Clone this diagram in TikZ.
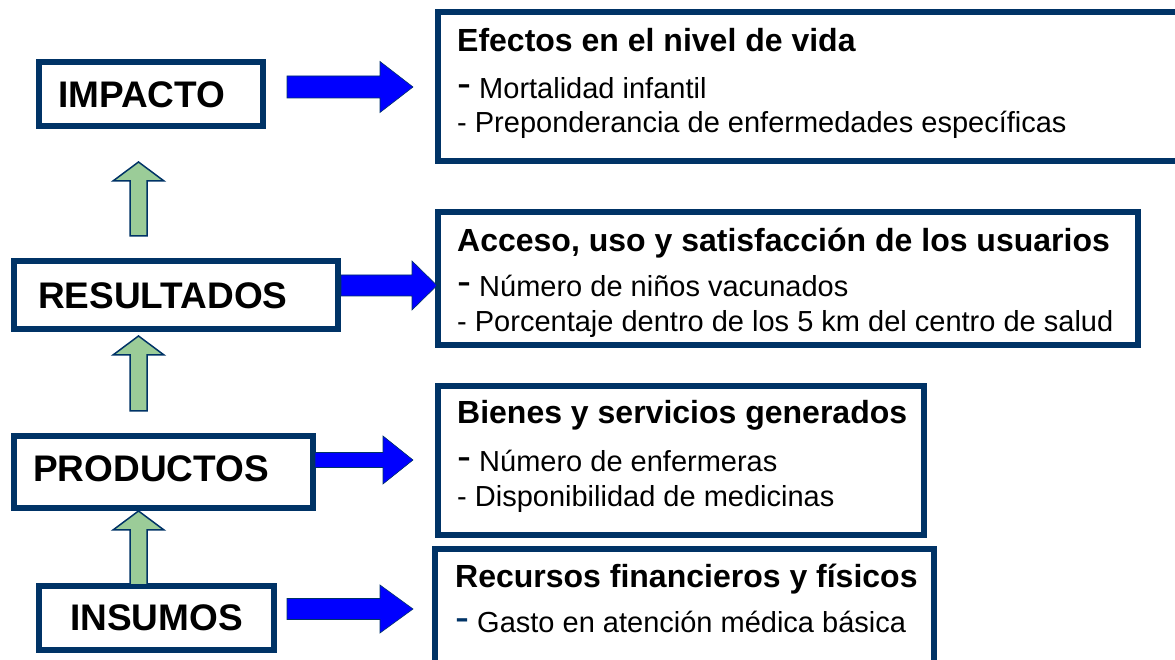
\documentclass[tikz,border=0pt]{standalone}
\usepackage{fontspec}
\setmainfont{Liberation Sans}
\usepackage{xcolor}
\usepackage{tikz}
\usetikzlibrary{calc,positioning}
\definecolor{navy}{RGB}{0,51,102}
\definecolor{leafgreen}{RGB}{155,204,152}
\definecolor{pureblue}{RGB}{0,0,255}
\tikzset{
  levelbox/.style={
      draw=navy,
      line width=6pt,
      fill=white,
      inner sep=0pt
    },
  levellabel/.style={anchor=base west, inner sep=0pt, font=\fontsize{37}{40}\selectfont\bfseries},
  headtext/.style={anchor=base west, inner sep=0pt, font=\fontsize{32}{36}\selectfont\bfseries},
  itemtext/.style={anchor=base west, inner sep=0pt, font=\fontsize{29}{33}\selectfont},
  bluearrow/.style={fill=pureblue, draw=navy, line width=0.6pt},
  greenarrow/.style={fill=leafgreen, draw=navy, line width=1.5pt}
}
\newcommand{\bigdash}{{\fontsize{42}{42}\selectfont\raisebox{1pt}{-}}}
% #2 from, #3 to, #4 half shaft, #5 half head, #6 head length
\newcommand{\rightfat}[6][]{%
  \path[#1] let \p1=(#2), \p2=(#3) in
    (\x1,\y1+#4) -- (\x2-#6,\y1+#4) -- (\x2-#6,\y1+#5) -- (\x2,\y1)
    -- (\x2-#6,\y1-#5) -- (\x2-#6,\y1-#4) -- (\x1,\y1-#4) -- cycle;}
\newcommand{\upfat}[6][]{%
  \path[#1] let \p1=(#2), \p2=(#3) in
    (\x1-#4,\y1) -- (\x1-#4,\y2-#6) -- (\x1-#5,\y2-#6) -- (\x1,\y2)
    -- (\x1+#5,\y2-#6) -- (\x1+#4,\y2-#6) -- (\x1+#4,\y1) -- cycle;}
\begin{document}
\begin{tikzpicture}[x=1pt,y=1pt]
\useasboundingbox (0,0) rectangle (1175,660);
\clip (0,0) rectangle (1175,660);
% the boxes
\node[levelbox, minimum width=224pt, minimum height=64pt] (impacto) at (151,566) {};
\node[levelbox, minimum width=324pt, minimum height=68pt] (resultados) at (176,365) {};
\node[levelbox, minimum width=299pt, minimum height=72pt] (productos) at (163.5,188) {};
\node[levelbox, minimum width=235pt, minimum height=64pt] (insumos) at (156.5,42) {};
\node[levelbox, minimum width=744pt, minimum height=149pt] (efectos) at (810,573.5) {};
\node[levelbox, minimum width=700pt, minimum height=133pt] (acceso) at (788,381.5) {};
\node[levelbox, minimum width=486pt, minimum height=149pt] (bienes) at (681,199.5) {};
\node[levelbox, minimum width=499pt, minimum height=148pt] (recursos) at (684.5,37) {};

% the texts
\node[levellabel] (impacto-lbl) at (58,552) {IMPACTO};
\node[levellabel] (resultados-lbl) at (38,351) {RESULTADOS};
\node[levellabel] (productos-lbl) at (33,178) {PRODUCTOS};
\node[levellabel] (insumos-lbl) at (70,29) {INSUMOS};

\node[headtext] (efectos-h) at (457,608) {Efectos en el nivel de vida};
\node[itemtext] (efectos-1) at (457,561) {\bigdash{} Mortalidad infantil};
\node[itemtext] (efectos-2) at (457,527) {- Preponderancia de enfermedades específicas};

\node[headtext] (acceso-h) at (457,408) {Acceso, uso y satisfacción de los usuarios};
\node[itemtext] (acceso-1) at (457,363) {\bigdash{} Número de niños vacunados};
\node[itemtext] (acceso-2) at (457,328) {- Porcentaje dentro de los 5 km del centro de salud};

\node[headtext] (bienes-h) at (457,236) {Bienes y servicios generados};
\node[itemtext] (bienes-1) at (457,188) {\bigdash{} Número de enfermeras};
\node[itemtext] (bienes-2) at (457,153) {- Disponibilidad de medicinas};

\node[headtext] (recursos-h) at (455,72) {Recursos financieros y físicos};
\node[itemtext] (recursos-1) at (455,27) {\textcolor{navy}{\bigdash}{} Gasto en atención médica básica};

%the arrows
\rightfat[bluearrow]{$(impacto.east)+(21,7)$}{$(efectos.west)+(-22,0)$}{11pt}{25.5pt}{33pt}
\rightfat[bluearrow]{$(resultados.east)+(0,9.5)$}{$(acceso.west)+(2,0)$}{10.5pt}{24.5pt}{25pt}
\rightfat[bluearrow]{$(productos.east)+(-1,12)$}{$(bienes.west)+(-22,0)$}{7.5pt}{24pt}{30pt}
\rightfat[bluearrow]{$(insumos.east)+(10,9)$}{$(recursos.west)+(-19,0)$}{10.5pt}{24pt}{33pt}

\coordinate (spine) at (138.5,0);
\upfat[greenarrow]{$(spine |- resultados.north)+(0,22)$}{$(spine |- impacto.south)+(0,-33)$}{8.5pt}{25.5pt}{19pt}
\upfat[greenarrow]{$(spine |- productos.north)+(0,22)$}{$(spine |- resultados.south)+(0,-4)$}{8.5pt}{25.5pt}{19pt}
\upfat[greenarrow]{$(spine |- insumos.north)+(0,-2)$}{$(spine |- productos.south)$}{8.5pt}{25.5pt}{19pt}
\end{tikzpicture}
\end{document}
